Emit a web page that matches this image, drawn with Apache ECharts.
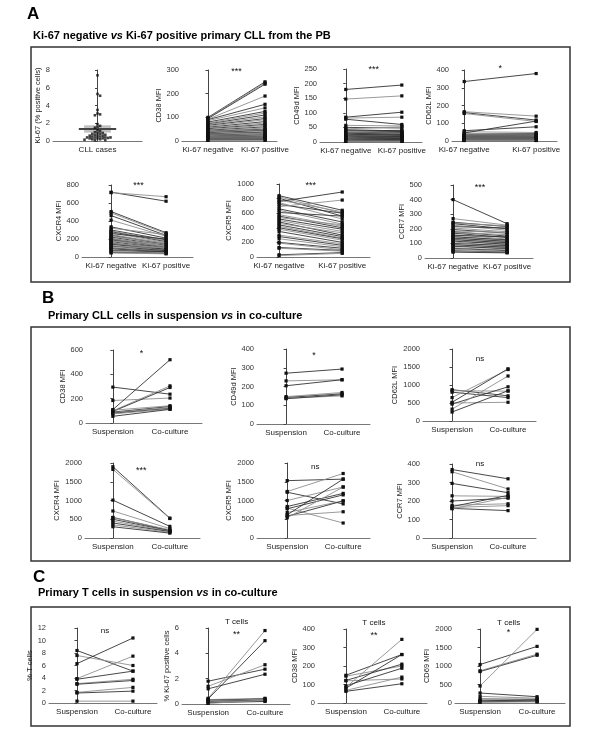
<!DOCTYPE html>
<html>
<head>
<meta charset="utf-8">
<script src="https://cdn.jsdelivr.net/npm/echarts@6/dist/echarts.min.js"></script>
<style>
  html, body { margin: 0; padding: 0; background: #fff; }
  #main { width: 600px; height: 749px; }
</style>
</head>
<body>
<div id="main"></div>
<script>
// ---- data ----
const kiCats = ['Ki-67 negative', 'Ki-67 positive'];
const ccCats = ['Suspension', 'Co-culture'];

// A: % Ki-67 positive cells per CLL case
const ki67Cases = [7.4, 5.3, 5.1, 3.5, 3.1, 3.0, 2.9, 1.9, 1.7, 1.6, 1.5, 1.2, 1.1, 1.0, 0.9, 0.9, 0.8, 0.8, 0.7, 0.7,
  0.6, 0.6, 0.6, 0.5, 0.5, 0.4, 0.4, 0.4, 0.4, 0.35, 0.3, 0.3, 0.3, 0.2, 0.2, 0.15, 0.1, 0.1];

// A: paired MFI, Ki-67 negative vs positive
const cd38Neg = [100, 98, 95, 92, 90, 86, 80, 76, 72, 70, 66, 62, 58, 55, 52, 48, 45, 42, 40, 38, 35, 32, 30, 28, 25, 22, 20, 18, 16, 15, 13, 12, 10, 9, 8, 7, 6, 5, 4, 3];
const cd38Pos = [250, 245, 240, 190, 155, 140, 125, 118, 110, 102, 95, 90, 82, 76, 70, 66, 60, 55, 50, 47, 44, 40, 37, 34, 30, 28, 25, 22, 20, 18, 16, 14, 12, 10, 9, 8, 7, 6, 5, 3];
const cd49dNeg = [180, 147, 85, 82, 78, 57, 50, 45, 42, 40, 38, 35, 33, 30, 28, 26, 25, 23, 22, 20, 18, 17, 16, 15, 14, 13, 12, 11, 10, 9, 8, 7, 6, 5, 5, 4, 3, 3, 2, 2];
const cd49dPos = [195, 158, 102, 85, 60, 55, 48, 52, 38, 35, 40, 30, 36, 28, 32, 24, 27, 20, 25, 18, 22, 15, 19, 13, 17, 12, 14, 10, 12, 8, 10, 7, 9, 5, 6, 4, 4, 3, 3, 2];
const cd62lNeg = [335, 165, 160, 155, 58, 52, 45, 40, 38, 35, 32, 30, 28, 26, 25, 24, 22, 20, 18, 17, 16, 15, 14, 13, 12, 11, 10, 10, 9, 8, 8, 7, 6, 6, 5, 5, 4, 4, 3, 3];
const cd62lPos = [380, 140, 118, 110, 80, 48, 112, 42, 40, 36, 34, 30, 28, 25, 24, 22, 20, 18, 18, 16, 15, 14, 13, 12, 12, 11, 10, 10, 9, 8, 8, 7, 6, 6, 5, 5, 4, 4, 3, 3];
const cxcr4Neg = [720, 715, 505, 490, 460, 410, 335, 320, 300, 290, 280, 270, 260, 250, 240, 230, 220, 210, 200, 195, 190, 180, 170, 160, 150, 145, 140, 130, 120, 110, 100, 95, 90, 80, 70, 60, 50, 45];
const cxcr4Pos = [620, 670, 270, 260, 240, 230, 210, 250, 190, 180, 170, 160, 200, 150, 140, 155, 130, 120, 110, 140, 100, 120, 95, 90, 85, 100, 80, 75, 70, 110, 65, 60, 55, 50, 60, 45, 40, 35];
const cxcr5Neg = [840, 825, 805, 780, 760, 745, 720, 690, 660, 640, 610, 580, 560, 540, 520, 500, 480, 460, 440, 420, 400, 380, 350, 300, 280, 250, 200, 190, 130, 120, 30, 20];
const cxcr5Pos = [640, 600, 560, 620, 890, 520, 600, 780, 480, 450, 560, 420, 400, 440, 380, 350, 300, 330, 280, 260, 250, 230, 200, 180, 160, 140, 120, 100, 90, 80, 60, 50];
const ccr7Neg = [400, 270, 245, 240, 235, 225, 215, 205, 195, 185, 180, 175, 170, 160, 155, 150, 145, 140, 135, 130, 125, 120, 115, 110, 100, 95, 90, 85, 80, 70, 65, 60, 50, 45, 40];
const ccr7Pos = [235, 225, 215, 220, 200, 190, 205, 180, 170, 175, 150, 160, 140, 130, 145, 120, 125, 110, 115, 100, 105, 90, 95, 80, 85, 70, 75, 60, 65, 55, 50, 45, 40, 38, 35];

// B: primary CLL cells, suspension vs co-culture
const bCd38Sus = [295, 185, 110, 100, 95, 105, 90, 85, 80, 75, 55];
const bCd38Co = [237, 205, 520, 305, 292, 142, 135, 128, 120, 115, 112];
const bCd49dSus = [271, 230, 204, 146, 141, 137, 135];
const bCd49dCo = [293, 236, 236, 168, 161, 150, 156];
const bCd62lSus = [870, 840, 800, 650, 520, 500, 470, 330, 250];
const bCd62lCo = [700, 830, 650, 1430, 1450, 520, 950, 1250, 840];
const bCxcr4Sus = [1900, 1830, 1010, 720, 550, 540, 500, 450, 400, 350, 300];
const bCxcr4Co = [530, 520, 310, 250, 200, 220, 190, 180, 170, 150, 130];
const bCxcr5Sus = [1530, 1240, 1220, 1000, 840, 800, 780, 680, 620, 600, 580, 540];
const bCxcr5Co = [1570, 1720, 910, 1360, 1190, 400, 1150, 990, 1570, 700, 990, 1360];
const bCcr7Sus = [370, 358, 295, 228, 200, 177, 170, 165, 160, 158];
const bCcr7Co = [320, 265, 245, 225, 215, 185, 230, 175, 148, 220];

// C: primary T cells, suspension vs co-culture
const tPctSus = [8.4, 7.6, 6.3, 3.9, 3.8, 3.1, 3.0, 1.7, 1.6, 0.3];
const tPctCo = [5.1, 6.0, 10.4, 7.5, 5.1, 3.8, 3.6, 2.5, 1.9, 0.3];
const tKi67Sus = [1.8, 1.4, 1.2, 0.45, 0.4, 0.35, 0.3, 0.25, 0.2, 0.15, 0.1, 0.05];
const tKi67Co = [2.75, 3.1, 2.35, 5.8, 5.0, 0.45, 0.4, 0.35, 0.3, 0.25, 0.2, 0.3];
const tCd38Sus = [150, 145, 122, 120, 93, 85, 80, 68, 63];
const tCd38Co = [262, 200, 210, 130, 188, 344, 262, 140, 104];
const tCd69Sus = [1040, 870, 850, 460, 270, 180, 110, 80, 60, 40, 30, 20];
const tCd69Co = [1530, 1320, 1290, 1990, 170, 130, 100, 60, 80, 40, 50, 30];

// ---- layout ----
const FONT = '"Liberation Sans", Arial, Helvetica, sans-serif';

// g: [left, top, width, height], x: x-axis extent around categories 0 and 1
const plots = [
  { g: [182, 70, 95, 71], x: [-0.456, 1.21], cats: kiCats, y: [300, 100], name: 'CD38 MFI', gap: 19, a: cd38Neg, b: cd38Pos, sig: '***', sigY: 72 },
  { g: [320, 69, 102, 73], x: [-0.46, 1.36], cats: kiCats, y: [250, 50], name: 'CD49d MFI', gap: 19, a: cd49dNeg, b: cd49dPos, sig: '***', sigY: 70 },
  { g: [452, 70, 105, 71], x: [-0.17, 1.29], cats: kiCats, y: [400, 100], name: 'CD62L MFI', gap: 19, a: cd62lNeg, b: cd62lPos, sig: '*', sigY: 69 },
  { g: [82, 185, 111, 72], x: [-0.53, 1.49], cats: kiCats, y: [800, 200], name: 'CXCR4 MFI', gap: 19, a: cxcr4Neg, b: cxcr4Pos, sig: '***', sigY: 186 },
  { g: [257, 184, 113, 73], x: [-0.35, 1.44], cats: kiCats, y: [1000, 200], name: 'CXCR5 MFI', gap: 22, a: cxcr5Neg, b: cxcr5Pos, sig: '***', sigY: 186 },
  { g: [425, 185, 108, 73], x: [-0.52, 1.48], cats: kiCats, y: [500, 100], name: 'CCR7 MFI', gap: 19, a: ccr7Neg, b: ccr7Pos, sig: '***', sigY: 188 },

  { g: [86, 350, 116, 73], x: [-0.47, 1.56], cats: ccCats, y: [600, 200], name: 'CD38 MFI', gap: 19, a: bCd38Sus, b: bCd38Co, sig: '*', sigY: 354 },
  { g: [257, 349, 113, 75], x: [-0.52, 1.5], cats: ccCats, y: [400, 100], name: 'CD49d MFI', gap: 19, a: bCd49dSus, b: bCd49dCo, sig: '*', sigY: 356 },
  { g: [423, 349, 113, 72], x: [-0.52, 1.5], cats: ccCats, y: [2000, 500], name: 'CD62L MFI', gap: 22, a: bCd62lSus, b: bCd62lCo, sig: 'ns', sigY: 359 },
  { g: [85, 463, 115, 75], x: [-0.49, 1.53], cats: ccCats, y: [2000, 500], name: 'CXCR4 MFI', gap: 22, a: bCxcr4Sus, b: bCxcr4Co, sig: '***', sigY: 471 },
  { g: [257, 463, 113, 75], x: [-0.54, 1.48], cats: ccCats, y: [2000, 500], name: 'CXCR5 MFI', gap: 22, a: bCxcr5Sus, b: bCxcr5Co, sig: 'ns', sigY: 467 },
  { g: [423, 464, 113, 74], x: [-0.52, 1.5], cats: ccCats, y: [400, 100], name: 'CCR7 MFI', gap: 19, a: bCcr7Sus, b: bCcr7Co, sig: 'ns', sigY: 464 },

  { g: [49, 628, 108, 75], x: [-0.5, 1.43], cats: ccCats, y: [12, 2], name: '% T cells', gap: 14, a: tPctSus, b: tPctCo, sig: 'ns', sigY: 631 },
  { g: [182, 628, 108, 76], x: [-0.46, 1.44], cats: ccCats, y: [6, 2], name: '% Ki-67 positive cells', gap: 10, a: tKi67Sus, b: tKi67Co, sig: '**', sigY: 635, head: 'T cells' },
  { g: [318, 629, 109, 74], x: [-0.5, 1.45], cats: ccCats, y: [400, 100], name: 'CD38 MFI', gap: 19, a: tCd38Sus, b: tCd38Co, sig: '**', sigY: 636, head: 'T cells' },
  { g: [455, 629, 110, 74], x: [-0.44, 1.49], cats: ccCats, y: [2000, 500], name: 'CD69 MFI', gap: 22, a: tCd69Sus, b: tCd69Co, sig: '*', sigY: 633, head: 'T cells' }
];

function gridOf(g) {
  return { left: g[0], top: g[1], width: g[2], height: g[3], containLabel: false };
}

function yAxisOf(gi, max, step, name, gap) {
  return {
    gridIndex: gi, type: 'value', min: 0, max: max, interval: step,
    name: name, nameLocation: 'middle', nameGap: gap,
    nameTextStyle: { fontSize: 7.5, color: '#222', fontFamily: FONT },
    axisLine: { show: true, lineStyle: { color: '#444', width: 1 } },
    axisTick: { show: true, length: 2.5, lineStyle: { color: '#444' } },
    axisLabel: { fontSize: 7.5, color: '#333', margin: 3, fontFamily: FONT, formatter: v => String(v) },
    splitLine: { show: false }
  };
}

function xAxisOf(gi, min, max, cats, ticks) {
  return {
    gridIndex: gi, type: 'value', min: min, max: max,
    axisLine: { show: true, onZero: false, lineStyle: { color: '#777', width: 1 } },
    axisTick: { show: false },
    splitLine: { show: false },
    axisLabel: {
      customValues: ticks, formatter: v => cats[Math.round(v)],
      fontSize: 8, color: '#222', margin: 5, fontFamily: FONT
    }
  };
}

// one line + two square markers per paired sample
function renderPair(params, api) {
  const p = api.coord([0, api.value(0)]);
  const q = api.coord([1, api.value(1)]);
  const col = params.dataIndex % 2 ? '#8f8f8f' : '#333';
  const s = 3.2;
  return {
    type: 'group',
    children: [
      { type: 'line', shape: { x1: p[0], y1: p[1], x2: q[0], y2: q[1] }, style: { stroke: col, lineWidth: 0.9 } },
      { type: 'rect', shape: { x: p[0] - s / 2, y: p[1] - s / 2, width: s, height: s }, style: { fill: '#111' } },
      { type: 'rect', shape: { x: q[0] - s / 2, y: q[1] - s / 2, width: s, height: s }, style: { fill: '#111' } }
    ]
  };
}

// ---- Ki-67 swarm (panel A, first plot) ----
const kiGrid = [53, 70, 89, 71];
const kiMax = 8;
function swarm(values) {
  const pxX = kiGrid[2] / 2, pxY = kiGrid[3] / kiMax, d = 2.6;
  const placed = [];
  return values.map(v => {
    for (let k = 0; k < 40; k++) {
      const off = (k % 2 ? 1 : -1) * Math.ceil(k / 2) * d;
      const ok = placed.every(o => Math.pow(o[0] - off, 2) + Math.pow((o[1] - v) * pxY, 2) >= d * d);
      if (ok) { placed.push([off, v]); return [off / pxX, v]; }
    }
    return [0, v];
  });
}
const kiMean = ki67Cases.reduce((s, v) => s + v, 0) / ki67Cases.length;
const kiSd = Math.sqrt(ki67Cases.reduce((s, v) => s + (v - kiMean) * (v - kiMean), 0) / (ki67Cases.length - 1));
const kiSem = kiSd / Math.sqrt(ki67Cases.length);

const grids = [gridOf(kiGrid)];
const xAxes = [{
  gridIndex: 0, type: 'value', min: -1, max: 1,
  axisLine: { show: true, onZero: false, lineStyle: { color: '#777' } },
  axisTick: { show: false }, splitLine: { show: false },
  axisLabel: { customValues: [0], formatter: () => 'CLL cases', fontSize: 8, color: '#222', margin: 5, fontFamily: FONT }
}];
const yAxes = [yAxisOf(0, kiMax, 2, 'Ki-67 (% positive cells)', 10)];
const series = [
  {
    type: 'custom', xAxisIndex: 0, yAxisIndex: 0, z: 1,
    data: [[kiMean, kiSem]],
    renderItem: (params, api) => {
      const m = api.value(0), e = api.value(1);
      const a = api.coord([-0.42, m]), b = api.coord([0.42, m]);
      const h1 = api.coord([-0.3, m + e]), h2 = api.coord([0.3, m + e]);
      const l1 = api.coord([-0.3, m - e]), l2 = api.coord([0.3, m - e]);
      const c = api.coord([0, m + e]), c2 = api.coord([0, m - e]);
      const light = { stroke: '#bdbdbd', lineWidth: 2.5 };
      return {
        type: 'group', children: [
          { type: 'line', shape: { x1: h1[0], y1: h1[1], x2: h2[0], y2: h2[1] }, style: light },
          { type: 'line', shape: { x1: l1[0], y1: l1[1], x2: l2[0], y2: l2[1] }, style: light },
          { type: 'line', shape: { x1: c[0], y1: c[1], x2: c2[0], y2: c2[1] }, style: light },
          { type: 'line', shape: { x1: a[0], y1: a[1], x2: b[0], y2: b[1] }, style: { stroke: '#444', lineWidth: 2 } }
        ]
      };
    }
  },
  {
    type: 'scatter', xAxisIndex: 0, yAxisIndex: 0, z: 3,
    symbol: 'rect', symbolSize: 2.6, itemStyle: { color: '#111' },
    data: swarm(ki67Cases)
  }
];

const texts = [];
function addText(x, y, text, size) {
  texts.push({
    type: 'text', x: x, y: y, silent: true,
    style: { text: text, fontSize: size, fontFamily: FONT, fill: '#111', align: 'center', verticalAlign: 'middle' }
  });
}

plots.forEach((p, i) => {
  const gi = i + 1;
  grids.push(gridOf(p.g));
  xAxes.push(xAxisOf(gi, p.x[0], p.x[1], p.cats, [0, 1]));
  yAxes.push(yAxisOf(gi, p.y[0], p.y[1], p.name, p.gap));
  series.push({
    type: 'custom', xAxisIndex: gi, yAxisIndex: gi,
    renderItem: renderPair,
    data: p.a.map((v, k) => [v, p.b[k]])
  });
  const mid = p.g[0] + (0.5 - p.x[0]) / (p.x[1] - p.x[0]) * p.g[2];
  addText(mid, p.sigY, p.sig, p.sig === 'ns' ? 8 : 9);
  if (p.head) addText(mid, p.g[1] - 6, p.head, 8);
});

// panel frames, letters and titles
const frames = [[31, 47, 539, 235], [31, 327, 539, 234], [31, 607, 539, 119]];
const letters = [['A', 27, 14], ['B', 42, 298], ['C', 33, 577]];
const heads = [
  [33, 36, 'Ki-67 negative ', ' Ki-67 positive primary CLL from the PB'],
  [48, 316, 'Primary CLL cells in suspension ', ' in co-culture'],
  [38, 593, 'Primary T cells in suspension ', ' in co-culture']
];
const deco = [];
frames.forEach(f => deco.push({
  type: 'rect', silent: true, shape: { x: f[0], y: f[1], width: f[2], height: f[3] },
  style: { fill: 'none', stroke: '#333', lineWidth: 1.5 }
}));
letters.forEach(l => deco.push({
  type: 'text', x: l[1], y: l[2], silent: true,
  style: { text: l[0], fontSize: 17, fontWeight: 'bold', fontFamily: FONT, fill: '#000', align: 'left', verticalAlign: 'middle' }
}));
heads.forEach(h => deco.push({
  type: 'text', x: h[0], y: h[1], silent: true,
  style: {
    text: '{b|' + h[2] + '}{i|vs}{b|' + h[3] + '}', align: 'left', verticalAlign: 'middle',
    rich: {
      b: { fontSize: 11, fontWeight: 'bold', fontFamily: FONT, fill: '#000' },
      i: { fontSize: 11, fontWeight: 'bold', fontStyle: 'italic', fontFamily: FONT, fill: '#000' }
    }
  }
}));

const chart = echarts.init(document.getElementById('main'), null, { renderer: 'canvas' });
chart.setOption({
  animation: false,
  backgroundColor: '#fff',
  grid: grids,
  xAxis: xAxes,
  yAxis: yAxes,
  series: series,
  graphic: deco.concat(texts)
});
</script>
</body>
</html>
